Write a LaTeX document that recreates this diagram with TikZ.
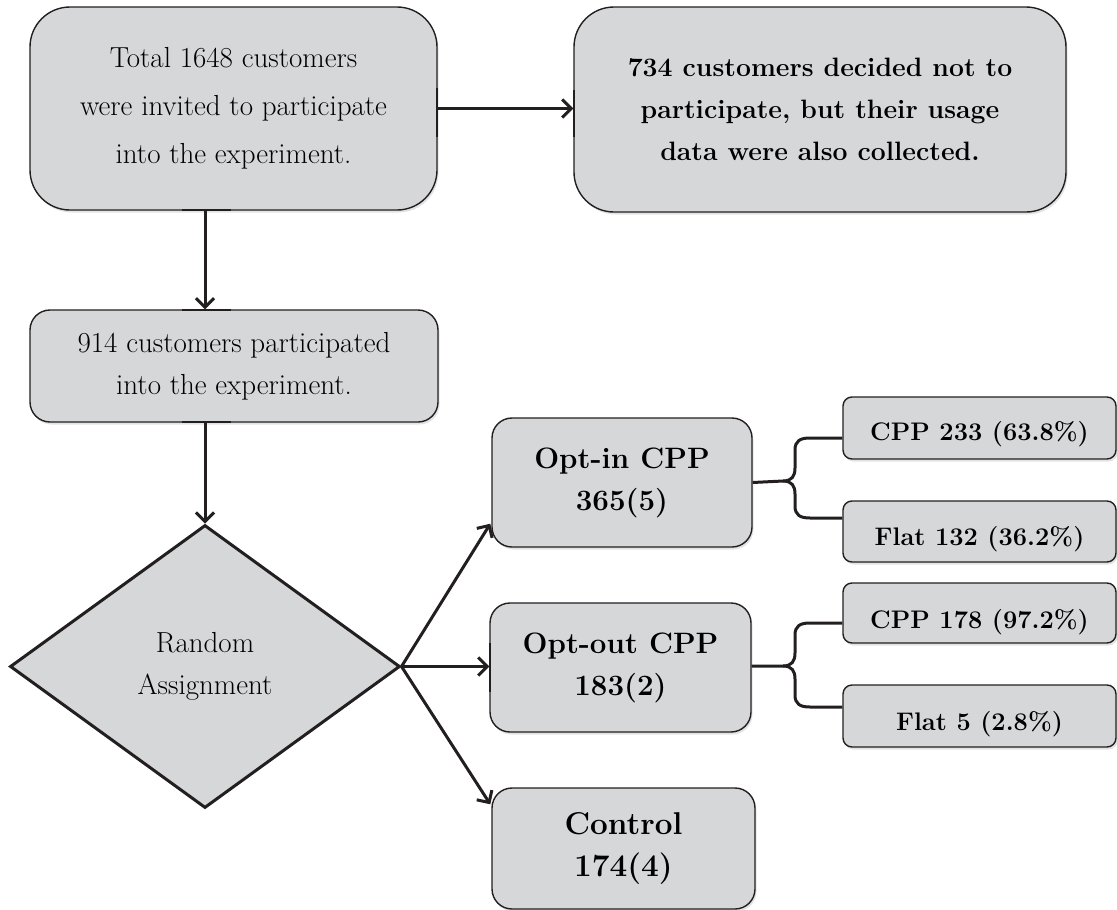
\documentclass[tikz,border=0pt]{standalone}
\usepackage{fontspec}
\usetikzlibrary{arrows.meta,shapes.geometric,shadows,calc}
\definecolor{boxfill}{HTML}{D6D7D9}
\definecolor{ink}{HTML}{231F20}
\begin{document}
\begin{tikzpicture}[x=1pt,y=-1pt,
  box/.style={draw=ink, fill=boxfill, line width=1.4pt, rounded corners=#1, inner sep=0pt, align=center,
    drop shadow={shadow xshift=1.5pt, shadow yshift=-2.5pt, opacity=0.22}},
  arr/.style={draw=ink, line width=3pt, -{Straight Barb[length=9pt,width=18pt]}},
  brc/.style={draw=ink, line width=3pt},
  tick/.style={draw=ink, line width=2.6pt},
  regA/.style={font=\fontsize{29}{48}\selectfont},
  regC/.style={font=\fontsize{29}{42}\selectfont},
  boldB/.style={font=\fontsize{26.6}{42}\selectfont\bfseries},
  boldM/.style={font=\fontsize{29.5}{42}\selectfont\bfseries},
  boldL/.style={font=\fontsize{31.5}{42}\selectfont\bfseries},
  boldS/.style={font=\fontsize{25.4}{30}\selectfont\bfseries}]
\useasboundingbox (0,0) rectangle (1117,910);

% main boxes
\node[box=40, regA, minimum width=407pt, minimum height=203pt] (A) at (233.5,108.5)
  {Total 1648 customers\\were invited to participate\\into the experiment.};
\node[box=40, boldB, minimum width=492pt, minimum height=205pt] (B) at (820,109.5)
  {734 customers decided not to\\participate, but their usage\\data were also collected.};
\node[box=20, regC, minimum width=408pt, minimum height=112pt] (C) at (234,366)
  {914 customers participated\\into the experiment.};
\node[draw=ink, line width=3pt, fill=boxfill, shape=diamond, minimum width=390pt,
  minimum height=283pt, inner sep=0pt, align=center, regC] (dia) at (205,666.5)
  {Random\\Assignment};

% groups
\node[box=20, boldM, minimum width=260pt, minimum height=129pt] (oi) at (622,482.5)
  {Opt-in CPP\\365(5)};
\node[box=20, boldM, minimum width=261pt, minimum height=129pt] (oo) at (620.5,667.5)
  {Opt-out CPP\\183(2)};
\node[box=20, boldL, minimum width=263pt, minimum height=121pt] (ctrl) at (623.5,848.5)
  {Control\\174(4)};

% sub boxes
\node[box=9, boldS, minimum width=273pt, minimum height=62pt] (c1) at (979.5,428)
  {\raisebox{-6pt}[\height][\depth]{CPP 233 (63.8\%)}};
\node[box=9, boldS, minimum width=273pt, minimum height=61pt] (f1) at (979.5,531.5)
  {\raisebox{-8pt}[\height][\depth]{Flat 132 (36.2\%)}};
\node[box=9, boldS, minimum width=273pt, minimum height=60pt] (c2) at (979.5,613)
  {\raisebox{-9pt}[\height][\depth]{CPP 178 (97.2\%)}};
\node[box=9, boldS, minimum width=273pt, minimum height=62pt] (f2) at (979.5,716)
  {\raisebox{-8pt}[\height][\depth]{Flat 5 (2.8\%)}};

% connection ticks
\draw[tick] (182,210) -- (231,210);
\draw[tick] (182,310) -- (231,310);
\draw[tick] (182,422) -- (231,422);
\draw[tick] (437,88) -- (437,137);
\draw[tick] (574,90) -- (574,137);
\draw[tick] (490,643) -- (490,692);

% arrows
\draw[arr] (A.east) -- (B.west |- A.east);
\draw[arr] (dia.north |- A.south) -- (dia.north |- C.north);
\draw[arr] (dia.north |- C.south) -- (dia.north);
\draw[arr] (dia.east) -- ($(oi.south west)+(-1,-24)$);
\draw[arr] (dia.east) -- (dia.east -| oo.west);
\draw[arr] (dia.east) -- ($(ctrl.north west)+(-1,17)$);

% braces
\draw[brc] (oi.east) -- (783,481) .. controls (792,481) and (795,476) .. (795,468) -- (795,450)
  .. controls (795,441) and (800,438) .. (810,438) -- (c1.west |- 0,438);
\draw[brc] (783,481) .. controls (792,481) and (795,486) .. (795,494) -- (795,506)
  .. controls (795,515) and (800,518) .. (810,518) -- (f1.west |- 0,518);
\draw[brc] (oo.east |- 0,666) -- (783,666) .. controls (792,666) and (795,661) .. (795,653) -- (795,635)
  .. controls (795,626) and (800,623) .. (810,623) -- (c2.west |- 0,623);
\draw[brc] (783,666) .. controls (792,666) and (795,671) .. (795,679) -- (795,695)
  .. controls (795,704) and (800,707) .. (810,707) -- (f2.west |- 0,707);
\end{tikzpicture}
\end{document}
